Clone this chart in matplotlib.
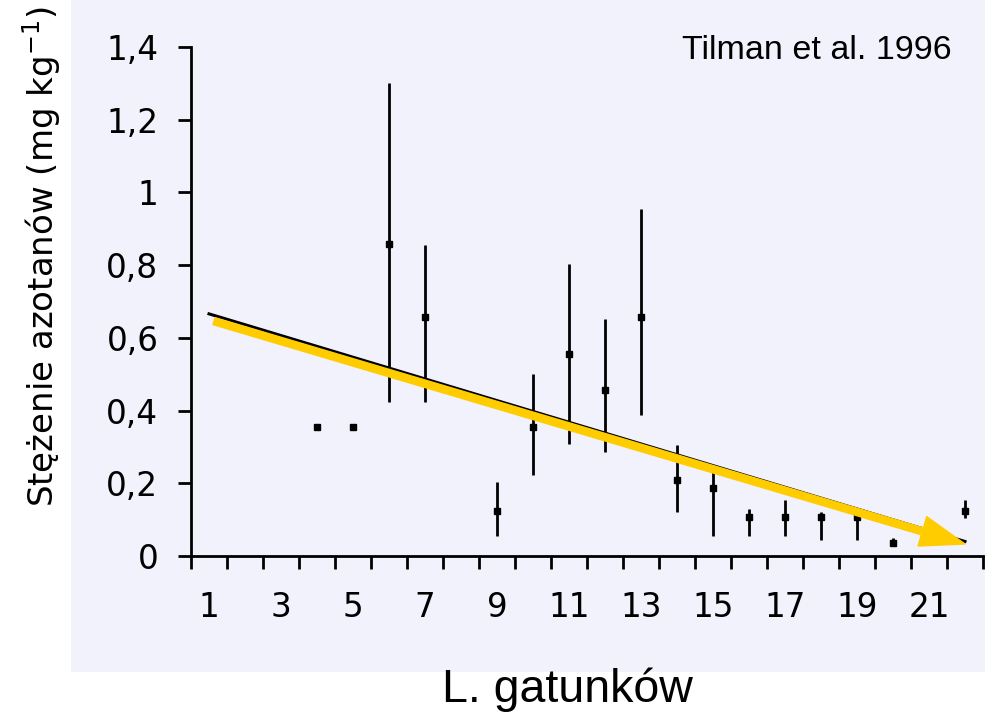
import matplotlib.pyplot as plt
from matplotlib.patches import Rectangle
from matplotlib.ticker import FixedLocator, NullFormatter

# liczba gatunków, średnie stężenie azotanów, dolny i górny koniec słupka błędu
species = [4, 5, 6, 7, 9, 10, 11, 12, 13, 14, 15, 16, 17, 18, 19, 20, 21, 22]
means = [0.355, 0.355, 0.858, 0.657, 0.124, 0.355, 0.556, 0.457, 0.657, 0.209,
         0.187, 0.107, 0.107, 0.107, 0.107, 0.035, 0.078, 0.124]
lower = [0.355, 0.355, 0.424, 0.424, 0.055, 0.223, 0.308, 0.286, 0.388, 0.121,
         0.055, 0.055, 0.055, 0.045, 0.045, 0.03, 0.078, 0.105]
upper = [0.355, 0.355, 1.30, 0.855, 0.204, 0.50, 0.803, 0.652, 0.954, 0.305,
         0.25, 0.13, 0.155, 0.12, 0.11, 0.05, 0.078, 0.155]

trend_x = [1, 22]
trend_y = [0.666, 0.04]
arrow_start = (1.14, 0.646)
arrow_end = (22.0, 0.033)

odd_labels = [1, 3, 5, 7, 9, 11, 13, 15, 17, 19, 21]

fig = plt.figure(figsize=(9.85, 7.2), dpi=100)
bg = Rectangle((71 / 985, 1 - 672 / 720), 1, 1, transform=fig.transFigure,
               facecolor="#F2F2FD", edgecolor="none", zorder=-10)
fig.patches.append(bg)

ax = fig.add_axes([191 / 985, 1 - 556 / 720, 792 / 985, 509 / 720])
ax.set_facecolor("none")

yerr_lo = [m - l for m, l in zip(means, lower)]
yerr_hi = [u - m for m, u in zip(means, upper)]
ax.errorbar(species, means, yerr=[yerr_lo, yerr_hi], fmt="s", color="black",
            ms=4.5, elinewidth=2, capsize=0, zorder=3)

ax.plot(trend_x, trend_y, color="black", lw=2.2, zorder=4)
ax.annotate("", xy=arrow_end, xytext=arrow_start,
            arrowprops=dict(arrowstyle="simple,head_length=1.6,head_width=1.1,tail_width=0.26",
                            color="#FFCC00", mutation_scale=20, shrinkA=0, shrinkB=0),
            zorder=5)

ax.set_xlim(0.5, 22.5)
ax.set_ylim(0, 1.4)
ax.spines["top"].set_visible(False)
ax.spines["right"].set_visible(False)
for s in ["left", "bottom"]:
    ax.spines[s].set_linewidth(2)

ax.set_yticks([0, 0.2, 0.4, 0.6, 0.8, 1.0, 1.2, 1.4])
ax.set_yticklabels(["0", "0,2", "0,4", "0,6", "0,8", "1", "1,2", "1,4"])
ax.tick_params(axis="y", direction="out", length=9.5, width=2, pad=14, labelsize=23.5)

ax.xaxis.set_major_locator(FixedLocator([i + 0.5 for i in range(23)]))
ax.xaxis.set_major_formatter(NullFormatter())
ax.xaxis.set_minor_locator(FixedLocator(odd_labels))
ax.set_xticklabels([str(v) for v in odd_labels], minor=True)
ax.tick_params(axis="x", which="major", direction="out", length=9.5, width=2)
ax.tick_params(axis="x", which="minor", length=0, pad=25, labelsize=23.5)

ax.text(0.961, 0.994, "Tilman et al. 1996", transform=ax.transAxes, ha="right",
        va="center", fontsize=24.5, family="Liberation Sans")

fig.text(42 / 985, 1 - 257 / 720, "Stężenie azotanów (mg kg$^{-1}$)", rotation=90,
         ha="center", va="center", fontsize=24.5)
fig.text(567 / 985, 1 - 690 / 720, "L. gatunków", ha="center", va="center",
         fontsize=33.5, family="Liberation Sans")

fig.savefig("out.png", dpi=100)
